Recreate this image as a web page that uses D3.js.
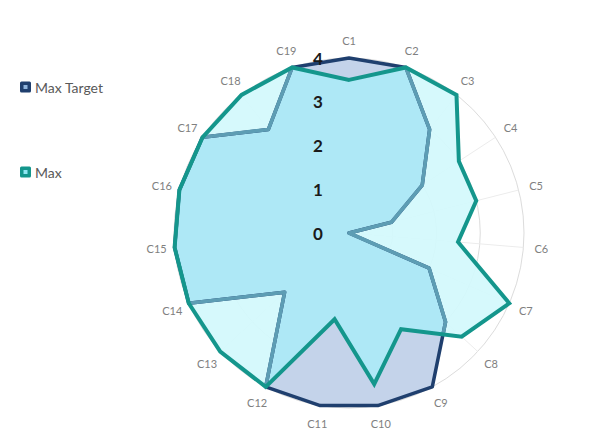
<!DOCTYPE html>
<html>
<head>
<meta charset="utf-8">
<script src="https://cdn.jsdelivr.net/npm/d3@7"></script>
<style>
  html, body { margin: 0; padding: 0; background: #fff; }
  svg { display: block; }
</style>
</head>
<body>
<div id="chart"></div>
<script>
// Radar chart: Max Target vs Max across 19 criteria
const categories = ["C1","C2","C3","C4","C5","C6","C7","C8","C9","C10",
                    "C11","C12","C13","C14","C15","C16","C17","C18","C19"];
const maxTarget = [4,4,3,2,1,0,2,3,4,4,4,4,2,4,4,4,4,3,4];
const maxValues = [3.5,4,4,3,3,2.5,4,3.5,2.5,3.5,2,4,4,4,4,4,4,4,4];
const radialTicks = [0,1,2,3,4];
const seriesNames = ["Max Target", "Max"];

const W = 612, H = 443;
const cx = 349, cy = 233, R = 175;

const svg = d3.select("#chart").append("svg")
  .attr("width", W).attr("height", H);

const r = d3.scaleLinear().domain([0, 4]).range([0, R]);
const angle = d3.scaleLinear().domain([0, categories.length]).range([0, 2 * Math.PI]);

const radial = d3.lineRadial()
  .angle((d, i) => angle(i))
  .radius(d => r(d))
  .curve(d3.curveLinearClosed);

// clip region = area covered by the Max series
svg.append("defs").append("clipPath").attr("id", "maxArea")
  .append("path")
  .attr("transform", `translate(${cx},${cy})`)
  .attr("d", radial(maxValues));

// layer helper; layers stack bottom to top in creation order
const makeLayer = (clipped) => {
  const outer = svg.append("g");
  if (clipped) outer.attr("clip-path", "url(#maxArea)");
  return outer.append("g").attr("transform", `translate(${cx},${cy})`);
};

const baseLayer = makeLayer(false);
const overlapFillLayer = makeLayer(true);
const targetLineLayer = makeLayer(false);
const overlapLineLayer = makeLayer(true);
const topLayer = makeLayer(false);

// grid rings and spokes
baseLayer.selectAll("circle.grid").data(radialTicks.slice(1)).join("circle")
  .attr("class", "grid")
  .attr("r", d => r(d))
  .attr("fill", "none")
  .attr("stroke", "#dcdcdc")
  .attr("stroke-width", 1);

baseLayer.selectAll("line.spoke").data(categories).join("line")
  .attr("class", "spoke")
  .attr("x1", 0).attr("y1", 0)
  .attr("x2", (d, i) => R * Math.sin(angle(i)))
  .attr("y2", (d, i) => -R * Math.cos(angle(i)))
  .attr("stroke", "#ececec")
  .attr("stroke-width", 1);

// fills: Max alone, Target alone, and where both overlap
baseLayer.append("path")
  .attr("d", radial(maxValues))
  .attr("fill", "#d2f9fc")
  .attr("fill-opacity", 0.92);
baseLayer.append("path")
  .attr("d", radial(maxTarget))
  .attr("fill", "#c4d3ea");
overlapFillLayer.append("path")
  .attr("d", radial(maxTarget))
  .attr("fill", "#aee8f6");

// Max Target outline (muted where seen through the Max fill)
targetLineLayer.append("path")
  .attr("d", radial(maxTarget))
  .attr("fill", "none")
  .attr("stroke", "#1f3f6e")
  .attr("stroke-width", 3.5)
  .attr("stroke-linejoin", "round");
overlapLineLayer.append("path")
  .attr("d", radial(maxTarget))
  .attr("fill", "none")
  .attr("stroke", "#5d9db4")
  .attr("stroke-width", 3.6)
  .attr("stroke-linejoin", "round");

// Max outline
topLayer.append("path")
  .attr("d", radial(maxValues))
  .attr("fill", "none")
  .attr("stroke", "#14968c")
  .attr("stroke-width", 4)
  .attr("stroke-linejoin", "miter");

// Category labels
topLayer.selectAll("text.cat").data(categories).join("text")
  .attr("class", "cat")
  .attr("x", (d, i) => (R + 18) * Math.sin(angle(i)))
  .attr("y", (d, i) => -(R + 18) * Math.cos(angle(i)))
  .attr("text-anchor", "middle")
  .attr("dominant-baseline", "central")
  .attr("font-family", "Lato, 'Open Sans', sans-serif")
  .attr("font-size", 11)
  .attr("fill", "#808080")
  .text(d => d);

// Radial value labels
topLayer.selectAll("text.tick").data(radialTicks).join("text")
  .attr("class", "tick")
  .attr("x", -31)
  .attr("y", d => -r(d))
  .attr("text-anchor", "middle")
  .attr("dominant-baseline", "central")
  .attr("font-family", "Lato, 'Open Sans', sans-serif")
  .attr("font-weight", "bold")
  .attr("font-size", 17)
  .attr("fill", "#1a1a1a")
  .text(d => d);

// Legend
const legendColors = ["#1f3f6e", "#14968c"];
const legendY = [87, 172];
const legend = svg.selectAll("g.legend").data(seriesNames).join("g")
  .attr("class", "legend")
  .attr("transform", (d, i) => `translate(20,${legendY[i]})`);
legend.append("rect")
  .attr("x", 0).attr("y", -5.5).attr("width", 11).attr("height", 11)
  .attr("rx", 1.5)
  .attr("fill", (d, i) => legendColors[i]);
legend.append("rect")
  .attr("x", 3.5).attr("y", -2).attr("width", 4).attr("height", 4)
  .attr("fill", (d, i) => i === 0 ? "#8fb4dc" : "#8fe6f2");
legend.append("text")
  .attr("x", 15).attr("y", 0)
  .attr("dominant-baseline", "central")
  .attr("font-family", "Lato, 'Open Sans', sans-serif")
  .attr("font-size", 14)
  .attr("fill", "#595959")
  .text(d => d);
</script>
</body>
</html>
